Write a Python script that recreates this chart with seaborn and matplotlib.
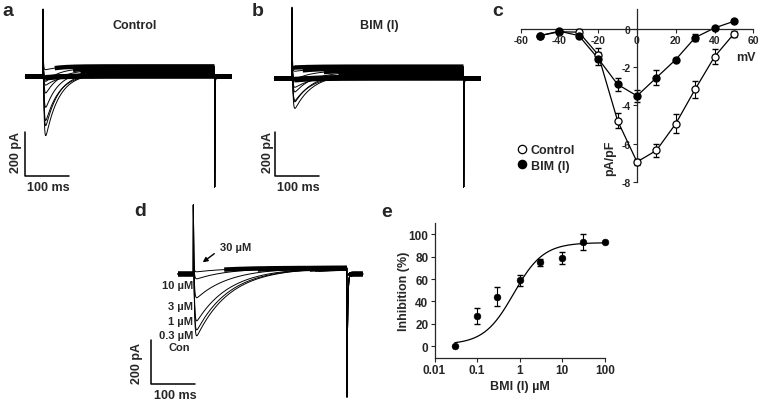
import numpy as np
import pandas as pd
import seaborn as sns
import matplotlib
matplotlib.use('Agg')
import matplotlib.pyplot as plt
from matplotlib.lines import Line2D
from matplotlib.ticker import NullLocator

# ---- values ----
# a / b: one trace per voltage step (-50 .. +50 mV), peak inward and late outward current (pA)
ctrl_peak_pa = [-8, -5, -10, -45, -209, -282, -241, -164, -105, -60, -15]
ctrl_steady_pa = [0, 2, 4, 6, 9, 13, 18, 24, 30, 38, 46]
bim_peak_pa = [-8, -5, -10, -50, -114, -155, -130, -91, -40, -12, -4]
bim_steady_pa = [0, 3, 6, 10, 14, 19, 24, 30, 37, 45, 54]

# d: traces at rising BMI (I) concentration
d_labels = ['Con', '0.3 µM', '1 µM', '3 µM', '10 µM']
d_peak_pa = [-309, -282, -241, -136, -50, -18]
d_steady_pa = [28, 28, 28, 28, 28, 28]

# c: I-V relation (pA/pF)
iv_mv = [-50, -40, -30, -20, -10, 0, 10, 20, 30, 40, 50]
iv_ctrl = [-0.35, -0.15, -0.17, -1.35, -4.8, -6.95, -6.35, -4.95, -3.15, -1.45, -0.25]
iv_ctrl_err = [0.1, 0.1, 0.15, 0.35, 0.4, 0.15, 0.35, 0.5, 0.45, 0.4, 0.15]
iv_bim = [-0.35, -0.12, -0.35, -1.55, -2.9, -3.5, -2.55, -1.6, -0.45, 0.05, 0.4]
iv_bim_err = [0.1, 0.1, 0.1, 0.35, 0.35, 0.3, 0.38, 0.1, 0.2, 0.05, 0.05]

# e: concentration-response
conc_um = [0.03, 0.1, 0.3, 1, 3, 10, 30, 100]
inhib_pct = [0, 27, 44, 59, 75, 79, 93, 93]
inhib_err = [0, 7.5, 8.5, 5, 3, 5.5, 7.5, 0]
fit_bottom, fit_top, fit_ic50, fit_hill = 1.5, 92.5, 0.72, 1.25

sns.set_style('ticks')
plt.rcParams['font.family'] = ['Liberation Sans', 'DejaVu Sans']
plt.rcParams['font.weight'] = 'bold'
plt.rcParams['axes.unicode_minus'] = False

W, H = 760, 402
MS_PX = 100 / 44   # ms per pixel (scale bars)
PA_PX = 200 / 44   # pA per pixel
TAU_M = 1.5

fig = plt.figure(figsize=(7.6, 4.02), dpi=100)


def ftext(x, y, s, **kw):
    kw.setdefault('ha', 'center')
    kw.setdefault('va', 'center')
    kw.setdefault('fontweight', 'bold')
    fig.text(x / W, 1 - y / H, s, **kw)


def px_axes(x0, y0, x1, y1):
    return fig.add_axes([x0 / W, 1 - y1 / H, (x1 - x0) / W, (y1 - y0) / H])


def build_traces(peaks, steady, t_on, t_off, t_end, tau_h, spike_on, spike_off, tau_tail):
    t = np.arange(0, t_end + 0.125, 0.25)
    s = np.clip(t - t_on, 0, None)
    during = (t >= t_on) & (t < t_off)
    after = t >= t_off
    shape = (1 - np.exp(-s / TAU_M)) ** 3 * np.exp(-s / tau_h)
    shape = shape / shape.max()
    cap_on = spike_on * np.exp(-s / 0.5)
    cap_off = spike_off * np.exp(-np.clip(t - t_off, 0, None) / tau_tail)
    rows, bands = [], []
    for k, (pk, ss) in enumerate(zip(peaks, steady)):
        inward = pk * shape
        cur = np.where(during, inward + ss + cap_on, 0.0) + np.where(after, cap_off, 0.0)
        quiet = (~during & ~after) | (during & (np.abs(inward) < 8) & (s > 2)) \
            | (after & (t - t_off > 4 * tau_tail))
        rows.append(pd.DataFrame({'t': t, 'I': cur, 'trace': k}))
        bands.append(np.where(quiet, cur, np.nan))
    return t, pd.concat(rows), bands


def trace_panel(box, x_t0, y_i0, t, df, bands, bar):
    x0, y0, x1, y1 = box
    ax = px_axes(*box)
    sns.lineplot(data=df, x='t', y='I', units='trace', estimator=None, sort=False,
                 color='black', lw=0.7, ax=ax, legend=False)
    for b in bands:
        ax.plot(t, b, color='black', lw=3.2, solid_capstyle='butt')
    bx, by = bar
    ax.plot([bx, bx, bx + 100], [by + 200, by, by], color='black', lw=1.1)
    ax.set_xlim((x0 - x_t0) * MS_PX, (x1 - x_t0) * MS_PX)
    ax.set_ylim((y_i0 - y1) * PA_PX, (y_i0 - y0) * PA_PX)
    ax.axis('off')
    return ax


# ---- a: control ----
t, df, bands = build_traces(ctrl_peak_pa, ctrl_steady_pa, 40, 430, 468, 30, 261, -502, 0.6)
trace_panel((0, 0, 250, 200), 25.4, 77.5, t, df, bands, (-1, -452))
ftext(135, 26, 'Control', fontsize=9)
ftext(16, 153, '200 pA', fontsize=9, rotation=90)
ftext(48, 188, '100 ms', fontsize=9)

# ---- b: BIM (I) ----
t, df, bands = build_traces(bim_peak_pa, bim_steady_pa, 40, 430, 468, 40, 270, -493, 0.6)
trace_panel((255, 0, 505, 200), 274.4, 79.5, t, df, bands, (1.4, -443))
ftext(379, 26, 'BIM (I)', fontsize=9)
ftext(268, 153, '200 pA', fontsize=9, rotation=90)
ftext(298, 188, '100 ms', fontsize=9)

# ---- d: concentration series ----
t, df, bands = build_traces(d_peak_pa, d_steady_pa, 35, 384, 420, 75, 286, -559, 1.5)
trace_panel((130, 200, 380, 402), 178, 275, t, df, bands, (-61, -500))
for lab, yy in zip(d_labels, [348, 336, 322, 307, 286]):
    ftext(193 if lab != 'Con' else 190, yy, lab, fontsize=8, ha='right')
ftext(236, 248, '30 µM', fontsize=8)
fig.add_artist(matplotlib.patches.FancyArrowPatch(
    (216.5 / W, 1 - 253 / H), (200.5 / W, 1 - 265 / H), transform=fig.transFigure,
    arrowstyle='-|>', mutation_scale=7, color='black', lw=1.0))
ftext(137, 363, '200 pA', fontsize=9, rotation=90)
ftext(175, 396, '100 ms', fontsize=9)

# ---- c: I-V ----
axc = px_axes(520.6, 10, 753.4, 183)
sns.lineplot(x=iv_mv, y=iv_ctrl, color='black', lw=0.9, ax=axc)
sns.lineplot(x=iv_mv, y=iv_bim, color='black', lw=0.9, ax=axc)
axc.errorbar(iv_mv, iv_ctrl, yerr=iv_ctrl_err, fmt='none', ecolor='black', elinewidth=0.8, capsize=2)
axc.errorbar(iv_mv, iv_bim, yerr=iv_bim_err, fmt='none', ecolor='black', elinewidth=0.8, capsize=2)
sns.scatterplot(x=iv_mv, y=iv_ctrl, color='white', edgecolor='black', linewidth=0.9, s=26,
                ax=axc, zorder=3, clip_on=False)
sns.scatterplot(x=iv_mv, y=iv_bim, color='black', edgecolor='black', linewidth=0.9, s=26,
                ax=axc, zorder=4, clip_on=False)
axc.set_xlim(-60, 60)
axc.set_ylim(-8, 1.04)
axc.spines['left'].set_position(('data', 0))
axc.spines['bottom'].set_position(('data', 0))
axc.spines['right'].set_visible(False)
axc.spines['top'].set_visible(False)
for sp in ['left', 'bottom']:
    axc.spines[sp].set_linewidth(0.9)
axc.set_xticks([-60, -40, -20, 0, 20, 40, 60])
axc.set_yticks([-8, -6, -4, -2, 0])
axc.tick_params(length=3, width=0.8, labelsize=7.5, pad=1.5)
ftext(746, 58, 'mV', fontsize=9)
ftext(610, 158, 'pA/pF', fontsize=9, rotation=90)
handles = [Line2D([], [], ls='none', marker='o', ms=6, mfc='white', mec='black', mew=0.9),
           Line2D([], [], ls='none', marker='o', ms=6, mfc='black', mec='black', mew=0.9)]
axc.legend(handles, ['Control', 'BIM (I)'], loc='upper left', bbox_to_anchor=(517 / W, 1 - 145 / H),
           bbox_transform=fig.transFigure, frameon=False, handlelength=0.8, handletextpad=0.3,
           labelspacing=0.3, borderpad=0, borderaxespad=0, prop={'weight': 'bold', 'size': 9})

# ---- e: concentration-response ----
axe = px_axes(434.5, 224, 605, 359)
axe.set_xscale('log')
xs = np.logspace(np.log10(0.03), 2, 200)
fit = fit_bottom + (fit_top - fit_bottom) / (1 + (fit_ic50 / xs) ** fit_hill)
sns.lineplot(x=xs, y=fit, color='black', lw=0.9, ax=axe)
axe.errorbar(conc_um, inhib_pct, yerr=inhib_err, fmt='none', ecolor='black', elinewidth=0.8, capsize=2)
sns.scatterplot(x=conc_um, y=inhib_pct, color='black', edgecolor='black', s=24, ax=axe,
                zorder=3, clip_on=False)
axe.set_xlim(0.01, 100)
axe.set_ylim(-10.5, 110)
axe.set_xticks([0.01, 0.1, 1, 10, 100])
axe.set_xticklabels(['0.01', '0.1', '1', '10', '100'])
axe.xaxis.set_minor_locator(NullLocator())
axe.set_yticks([0, 20, 40, 60, 80, 100])
axe.tick_params(length=3, width=0.8, labelsize=8.5, pad=1.5)
sns.despine(ax=axe)
for sp in ['left', 'bottom']:
    axe.spines[sp].set_linewidth(0.9)
ftext(404, 291, 'Inhibition (%)', fontsize=9, rotation=90)
ftext(520, 387, 'BMI (I) µM', fontsize=9)

# panel letters
for lab, x, y in [('a', 8, 12), ('b', 258, 12), ('c', 498, 12), ('d', 140, 212), ('e', 387, 213)]:
    ftext(x, y, lab, fontsize=14)

fig.savefig('out.png', dpi=100)
